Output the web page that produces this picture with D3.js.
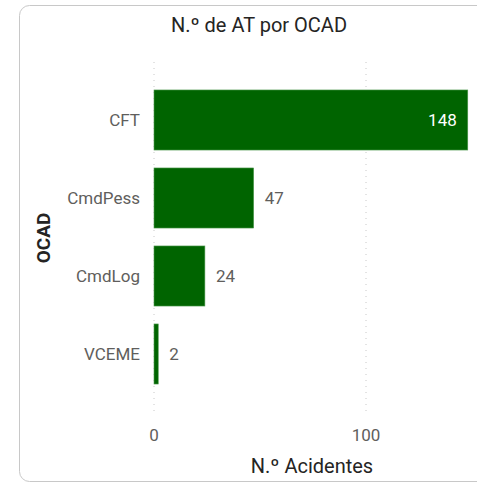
<!DOCTYPE html>
<html>
<head>
<meta charset="utf-8">
<script src="https://cdn.jsdelivr.net/npm/d3@7"></script>
<style>
  body { margin: 0; background: #fff; }
  text { font-family: "Segoe UI", Roboto, sans-serif; }
</style>
</head>
<body>
<script>
var categories = ["CFT", "CmdPess", "CmdLog", "VCEME"];
var values = [148, 47, 24, 2];
var tickValues = [0, 100];

var width = 477, height = 485;
var svg = d3.select("body").append("svg")
    .attr("width", width)
    .attr("height", height);

// card frame
svg.append("rect")
    .attr("x", 19.5).attr("y", 5.5)
    .attr("width", 480).attr("height", 476)
    .attr("rx", 10)
    .attr("fill", "#fff")
    .attr("stroke", "#c8c8c8")
    .attr("stroke-width", 1);

var x = d3.scaleLinear().domain([0, 100]).range([154, 366]);
var y = d3.scaleBand().domain(categories).range([81, 393]).paddingInner(0.23).paddingOuter(0.115);

// gridlines
svg.append("g").selectAll("line")
    .data(tickValues)
    .join("line")
    .attr("x1", d => x(d)).attr("x2", d => x(d))
    .attr("y1", 62).attr("y2", 416)
    .attr("stroke", "#c8c8c8")
    .attr("stroke-dasharray", "1,5");

svg.append("g").selectAll("text")
    .data(tickValues)
    .join("text")
    .attr("x", d => x(d))
    .attr("y", 441)
    .attr("text-anchor", "middle")
    .attr("fill", "#605E5C")
    .attr("font-size", 17)
    .text(d => d);

// bars
svg.append("g").selectAll("rect")
    .data(values)
    .join("rect")
    .attr("x", x(0))
    .attr("y", (d, i) => y(categories[i]))
    .attr("width", d => x(d) - x(0))
    .attr("height", y.bandwidth())
    .attr("fill", "#006400")
    .attr("stroke", "#4f9a4f")
    .attr("stroke-width", 0.6);

// category labels
svg.append("g").selectAll("text")
    .data(categories)
    .join("text")
    .attr("x", 140)
    .attr("y", d => y(d) + y.bandwidth() / 2)
    .attr("dy", "0.35em")
    .attr("text-anchor", "end")
    .attr("fill", "#605E5C")
    .attr("font-size", 17)
    .text(d => d);

// value labels: inside when no room outside
var inside = d => x(d) + 45 > width;
svg.append("g").selectAll("text")
    .data(values)
    .join("text")
    .attr("x", d => inside(d) ? x(d) - 11 : x(d) + 11)
    .attr("y", (d, i) => y(categories[i]) + y.bandwidth() / 2)
    .attr("dy", "0.35em")
    .attr("text-anchor", d => inside(d) ? "end" : "start")
    .attr("fill", d => inside(d) ? "#fff" : "#605E5C")
    .attr("font-size", 17)
    .text(d => d);

// titles
svg.append("text")
    .attr("x", 259).attr("y", 32)
    .attr("text-anchor", "middle")
    .attr("fill", "#252423")
    .attr("font-size", 20)
    .text("N.º de AT por OCAD");

svg.append("text")
    .attr("x", 312).attr("y", 473)
    .attr("text-anchor", "middle")
    .attr("fill", "#252423")
    .attr("font-size", 20)
    .text("N.º Acidentes");

svg.append("text")
    .attr("transform", "translate(50,238) rotate(-90)")
    .attr("text-anchor", "middle")
    .attr("fill", "#252423")
    .attr("font-size", 19)
    .attr("font-weight", "bold")
    .text("OCAD");
</script>
</body>
</html>
